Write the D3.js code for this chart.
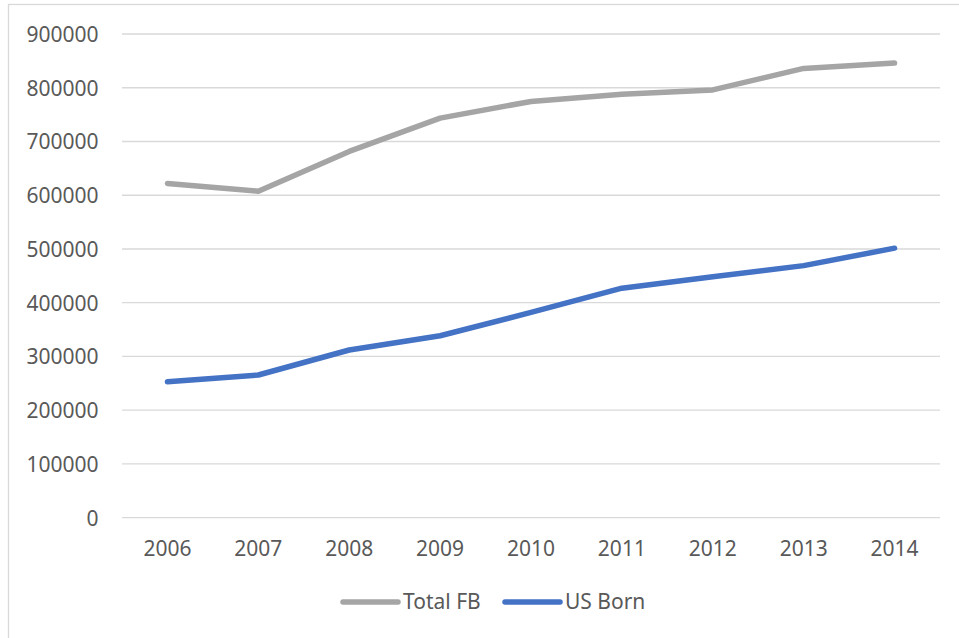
<!DOCTYPE html>
<html>
<head>
<meta charset="utf-8">
<script src="https://cdn.jsdelivr.net/npm/d3@7"></script>
<style>
  html, body { margin: 0; padding: 0; background: #fff; }
  svg { display: block; font-family: "Noto Sans", "Open Sans", sans-serif; }
</style>
</head>
<body>
<svg id="chart" width="959" height="638"></svg>
<script>
const years = ["2006","2007","2008","2009","2010","2011","2012","2013","2014"];
const totalFB = [622000, 607500, 681500, 743500, 774500, 788000, 796000, 836000, 846000];
const usBorn = [253000, 265500, 312000, 338500, 382000, 427000, 448500, 469000, 501500];
const yTicks = [0, 100000, 200000, 300000, 400000, 500000, 600000, 700000, 800000, 900000];
const seriesNames = ["Total FB", "US Born"];
const seriesColors = ["#A5A5A5", "#4472C4"];

(function () {
const svg = d3.select("#chart");
const W = 959, H = 638;

svg.append("rect")
  .attr("x", 8.5).attr("y", 4.5)
  .attr("width", W + 10).attr("height", H + 10)
  .attr("fill", "none").attr("stroke", "#D9D9D9").attr("stroke-width", 1.3);

const mLeft = 122, mRight = 940, mTop = 34, mBottom = 517.7;

const x = d3.scaleBand().domain(years).range([mLeft, mRight]).padding(0);
const y = d3.scaleLinear().domain([0, 900000]).range([mBottom, mTop]);

svg.append("g").selectAll("line").data(yTicks).join("line")
  .attr("x1", mLeft).attr("x2", mRight)
  .attr("y1", d => y(d)).attr("y2", d => y(d))
  .attr("stroke", "#D9D9D9").attr("stroke-width", 1.3);

const yAxis = d3.axisLeft(y).tickValues(yTicks).tickSize(0).tickPadding(0).tickFormat(d3.format("d"));
const gy = svg.append("g").attr("transform", `translate(98.5,0)`).call(yAxis);
gy.select(".domain").remove();
gy.selectAll("text").attr("font-size", 21).attr("fill", "#595959")
  .attr("font-family", "'Noto Sans', sans-serif").attr("dy", "0.35em");

const xAxis = d3.axisBottom(x).tickSize(0).tickPadding(0);
const gx = svg.append("g").attr("transform", `translate(0,${mBottom})`).call(xAxis);
gx.select(".domain").remove();
gx.selectAll("text").attr("font-size", 21).attr("fill", "#595959")
  .attr("font-family", "'Noto Sans', sans-serif")
  .attr("y", 0).attr("dy", "38.5");

const cx = d => x(d) + x.bandwidth() / 2;
const line = d3.line().x((d, i) => cx(years[i])).y(d => y(d));

[totalFB, usBorn].forEach((s, k) => {
  svg.append("path").datum(s)
    .attr("d", line)
    .attr("fill", "none")
    .attr("stroke", seriesColors[k])
    .attr("stroke-width", 5.5)
    .attr("stroke-linejoin", "round")
    .attr("stroke-linecap", "round");
});

const legendY = 602;
const legendItems = [{x0: 343, name: seriesNames[0], color: seriesColors[0]},
                     {x0: 505, name: seriesNames[1], color: seriesColors[1]}];
const lg = svg.append("g");
legendItems.forEach(it => {
  lg.append("line").attr("x1", it.x0).attr("x2", it.x0 + 55)
    .attr("y1", legendY).attr("y2", legendY)
    .attr("stroke", it.color).attr("stroke-width", 5.5).attr("stroke-linecap", "round");
  lg.append("text").attr("x", it.x0 + 60).attr("y", legendY).attr("dy", "0.35em")
    .attr("font-size", 21).attr("fill", "#595959").text(it.name);
});
})();
</script>
</body>
</html>
